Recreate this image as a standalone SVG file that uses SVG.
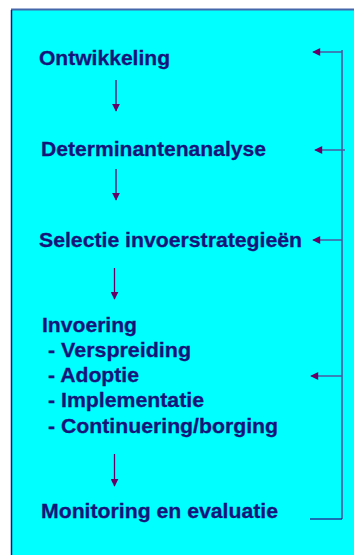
<svg xmlns="http://www.w3.org/2000/svg" width="354" height="555" viewBox="0 0 354 555">
<style>
text{font-family:"Liberation Sans",Arial,sans-serif;font-weight:bold;font-size:20.5px;fill:#14147a;stroke:#14147a;stroke-width:0.3}
.down{stroke:#660066;stroke-width:1.3;fill:none}
.back{stroke:#4a5aa0;stroke-width:1.5;fill:none}
</style>
<defs>
<marker id="ah" viewBox="0 0 10 10" refX="9" refY="5" markerWidth="8" markerHeight="8" markerUnits="userSpaceOnUse" orient="auto">
<path d="M0,0 L10,5 L0,10 z" fill="#660066"/>
</marker>
<marker id="ah2" viewBox="0 0 10 10" refX="9" refY="5" markerWidth="9" markerHeight="8" markerUnits="userSpaceOnUse" orient="auto">
<path d="M0,0 L10,5 L0,10 z" fill="#660066"/>
</marker>
</defs>
<rect x="0" y="0" width="354" height="555" fill="#ffffff"/>
<rect x="11.5" y="10" width="344" height="550" fill="#00ffff"/>
<line x1="11" y1="9.5" x2="354" y2="9.5" stroke="#4466aa" stroke-width="2"/>
<line x1="11.5" y1="10" x2="11.5" y2="555" stroke="#1a1a82" stroke-width="1.5"/>
<g id="n1"><text x="39" y="65" textLength="131" lengthAdjust="spacingAndGlyphs">Ontwikkeling</text></g>
<g id="n2"><text x="41" y="156" textLength="225" lengthAdjust="spacingAndGlyphs">Determinantenanalyse</text></g>
<g id="n3"><text x="39" y="247" textLength="263" lengthAdjust="spacingAndGlyphs">Selectie invoerstrategieën</text></g>
<g id="n4"><text x="42" y="332" textLength="95" lengthAdjust="spacingAndGlyphs">Invoering</text>
<text x="48" y="357" textLength="143" lengthAdjust="spacingAndGlyphs">- Verspreiding</text>
<text x="48" y="382" textLength="91" lengthAdjust="spacingAndGlyphs">- Adoptie</text>
<text x="48" y="407" textLength="156" lengthAdjust="spacingAndGlyphs">- Implementatie</text>
<text x="48" y="433" textLength="230" lengthAdjust="spacingAndGlyphs">- Continuering/borging</text></g>
<g id="n5"><text x="41" y="518" textLength="237" lengthAdjust="spacingAndGlyphs">Monitoring en evaluatie</text></g>
<g id="connectors">
<line class="down" x1="116" y1="80" x2="116" y2="111" marker-end="url(#ah)"/>
<line class="down" x1="116" y1="169" x2="116" y2="200" marker-end="url(#ah)"/>
<line class="down" x1="114.5" y1="268" x2="114.5" y2="299" marker-end="url(#ah)"/>
<line class="down" x1="114.5" y1="454" x2="114.5" y2="486" marker-end="url(#ah)"/>
<line x1="342" y1="50" x2="342" y2="519" stroke="#3a6aaa" stroke-width="1.8"/>
<line x1="310" y1="519" x2="342" y2="519" stroke="#222288" stroke-width="1.3"/>
<line class="back" x1="342" y1="52" x2="313" y2="52" marker-end="url(#ah2)"/>
<line class="back" x1="345" y1="150" x2="315" y2="150" marker-end="url(#ah2)"/>
<line class="back" x1="342" y1="240" x2="313" y2="240" marker-end="url(#ah2)"/>
<line class="back" x1="342" y1="376" x2="311" y2="376" marker-end="url(#ah2)"/>
</g>
</svg>
